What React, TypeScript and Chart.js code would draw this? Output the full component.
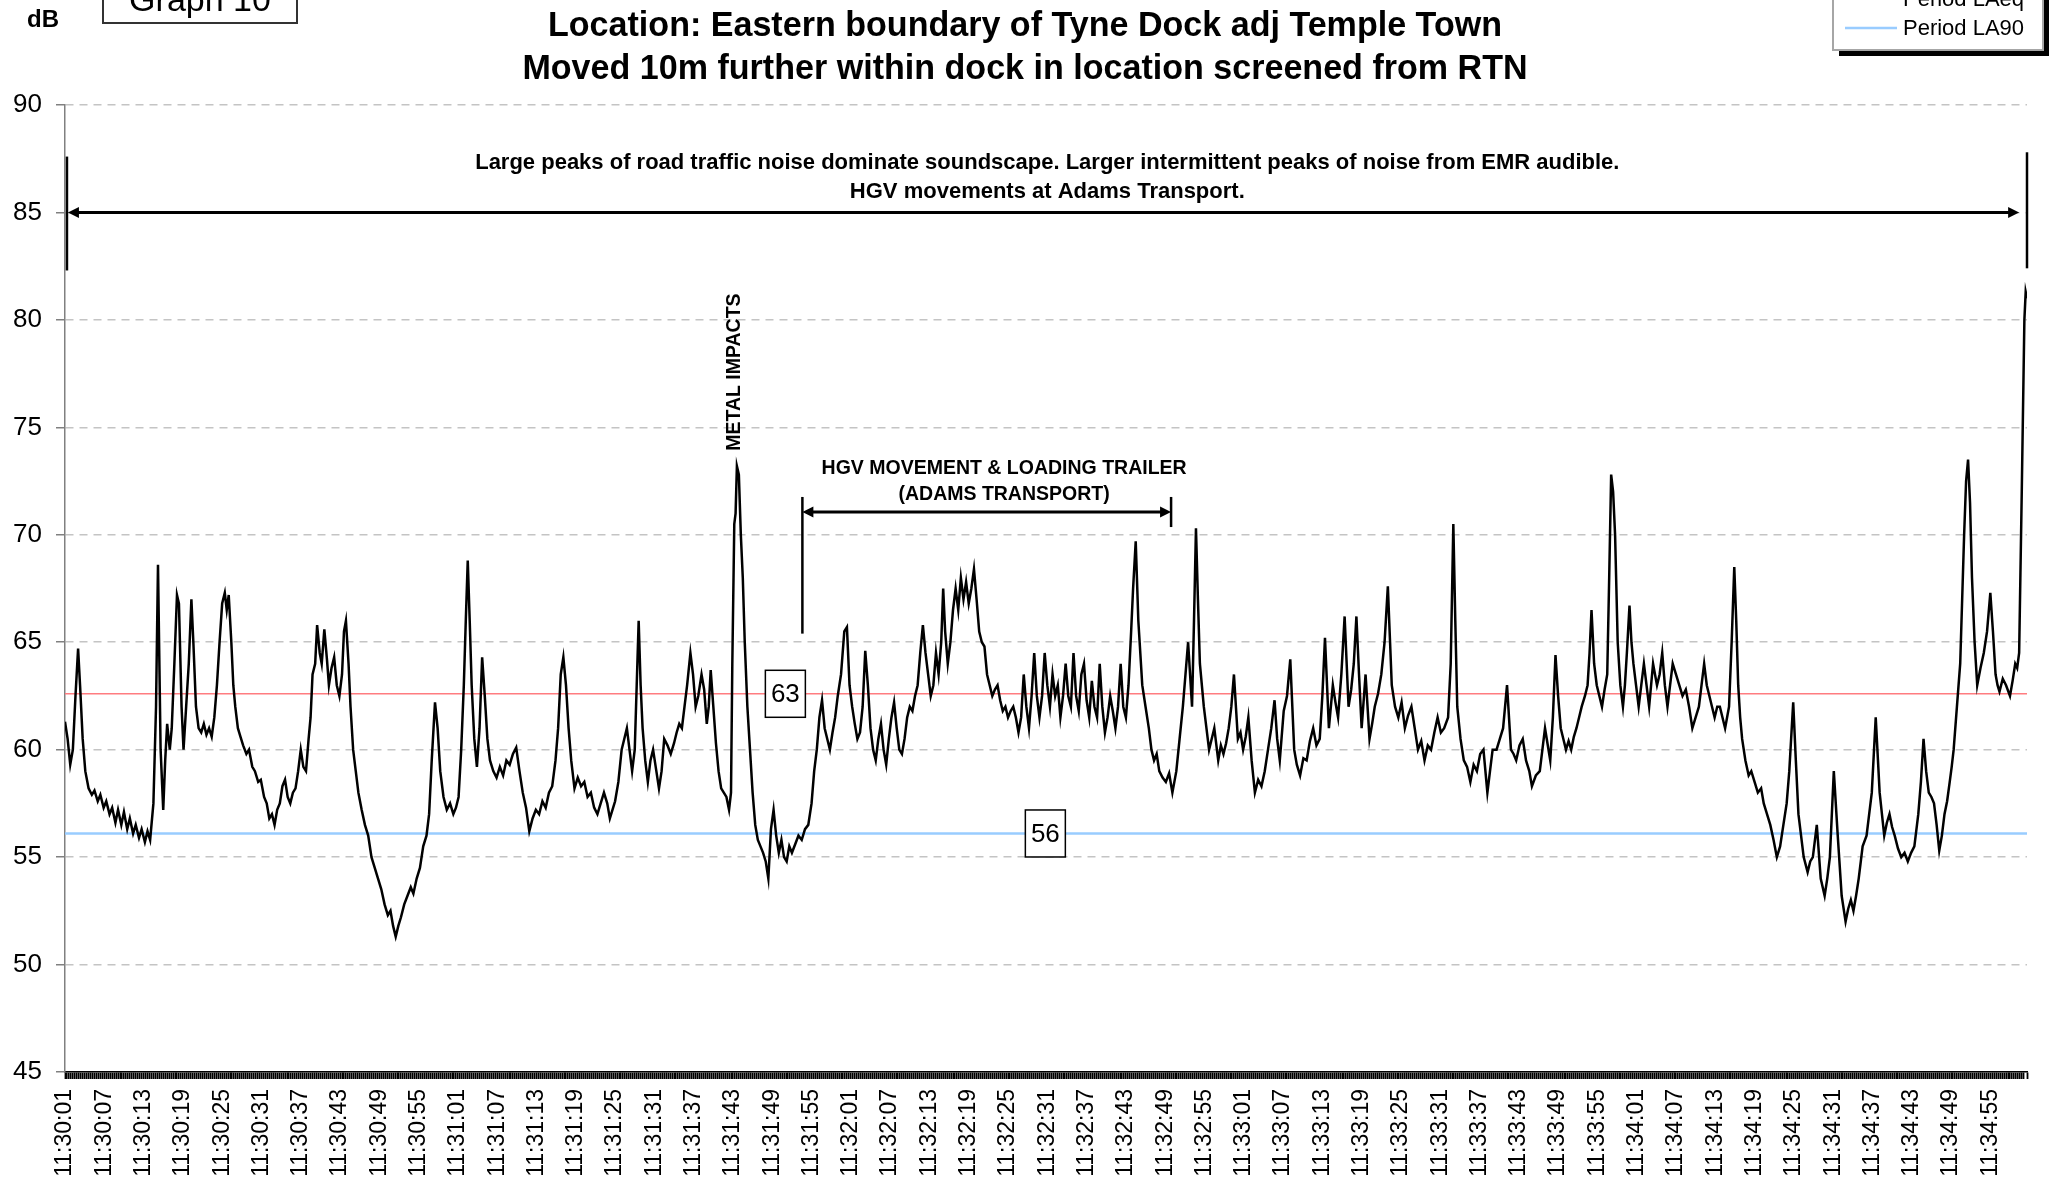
import { useEffect, useRef } from "react";
import { Chart, registerables } from "chart.js";

Chart.register(...registerables);

const FONT = "'Liberation Sans', Arial, Helvetica, sans-serif";
const PAGE_W = 2049;
const PAGE_H = 1179;
const HIDDEN_TOP = 60; // canvas rows that sit above the visible page
const CANVAS_H = 1300;

const titleLines = [
  "Measured Noise Sample at Position 10",
  "Location: Eastern boundary of Tyne Dock adj Temple Town",
  "Moved 10m further within dock in location screened from RTN",
];

const timeLabels = [
  "11:30:01", "11:30:07", "11:30:13", "11:30:19", "11:30:25", "11:30:31", "11:30:37", "11:30:43", "11:30:49", "11:30:55",
  "11:31:01", "11:31:07", "11:31:13", "11:31:19", "11:31:25", "11:31:31", "11:31:37", "11:31:43", "11:31:49", "11:31:55",
  "11:32:01", "11:32:07", "11:32:13", "11:32:19", "11:32:25", "11:32:31", "11:32:37", "11:32:43", "11:32:49", "11:32:55",
  "11:33:01", "11:33:07", "11:33:13", "11:33:19", "11:33:25", "11:33:31", "11:33:37", "11:33:43", "11:33:49", "11:33:55",
  "11:34:01", "11:34:07", "11:34:13", "11:34:19", "11:34:25", "11:34:31", "11:34:37", "11:34:43", "11:34:49", "11:34:55",
];
const labelStepSeconds = 6;
const sampleEnd = 299.6;

// [seconds after 11:30:01, LAeq dB] — first half of the sample
const laeqTraceA: [number, number][] = [
  [0, 61.3], [0.4, 60.5], [0.8, 59.3], [1.2, 60], [1.6, 62.5], [2.0, 64.7], [2.3, 63], [2.7, 60.5], [3.1, 59], [3.6, 58.2],
  [4.1, 57.9], [4.5, 58.1], [5.0, 57.6], [5.4, 57.9], [5.9, 57.3], [6.3, 57.6], [6.8, 57], [7.2, 57.3], [7.7, 56.6], [8.1, 57.2],
  [8.6, 56.5], [9.0, 57.1], [9.5, 56.3], [9.9, 56.8], [10.4, 56.1], [10.8, 56.5], [11.3, 55.9], [11.7, 56.3], [12.2, 55.7], [12.6, 56.2],
  [13.0, 55.8], [13.5, 57.5], [13.9, 62], [14.2, 68.6], [14.6, 60], [15.0, 57.2], [15.3, 59.5], [15.6, 61.2], [16.0, 60], [16.3, 61],
  [16.7, 64], [17.1, 67.2], [17.4, 66.8], [17.8, 62], [18.1, 60], [18.5, 62], [18.9, 64], [19.3, 67], [19.6, 65], [20.0, 62],
  [20.4, 61], [20.8, 60.8], [21.2, 61.2], [21.6, 60.7], [22.0, 61], [22.4, 60.6], [22.8, 61.5], [23.2, 63], [23.6, 65], [24.0, 66.8],
  [24.4, 67.3], [24.7, 66.5], [25.0, 67.2], [25.4, 65], [25.7, 63], [26.0, 62], [26.4, 61], [26.8, 60.6], [27.2, 60.2], [27.7, 59.8],
  [28.1, 60], [28.6, 59.2], [29.0, 59], [29.5, 58.5], [29.9, 58.6], [30.4, 57.8], [30.8, 57.5], [31.2, 56.8], [31.6, 57], [32.0, 56.5],
  [32.4, 57.2], [32.8, 57.5], [33.2, 58.3], [33.6, 58.6], [34.0, 57.8], [34.4, 57.5], [34.8, 58], [35.2, 58.2], [35.6, 59], [36.0, 60],
  [36.4, 59.2], [36.8, 59], [37.2, 60.5], [37.5, 61.5], [37.8, 63.5], [38.2, 64], [38.5, 65.8], [38.9, 64.5], [39.2, 64], [39.6, 65.6],
  [40.0, 64.2], [40.3, 63], [40.7, 63.8], [41.1, 64.3], [41.5, 63], [41.9, 62.5], [42.3, 63.5], [42.6, 65.5], [42.9, 66], [43.3, 64],
  [43.6, 62], [44.0, 60], [44.4, 59], [44.8, 58], [45.3, 57.2], [45.8, 56.5], [46.3, 56], [46.8, 55], [47.3, 54.5], [47.8, 54],
  [48.3, 53.5], [48.8, 52.8], [49.3, 52.3], [49.7, 52.5], [50.1, 51.8], [50.5, 51.3], [50.9, 51.8], [51.3, 52.2], [51.8, 52.8], [52.3, 53.2],
  [52.8, 53.6], [53.2, 53.3], [53.7, 54], [54.2, 54.5], [54.7, 55.5], [55.2, 56], [55.6, 57], [56.0, 59.5], [56.5, 62.2], [56.9, 61],
  [57.3, 59], [57.8, 57.8], [58.3, 57.2], [58.8, 57.5], [59.3, 57], [59.7, 57.3], [60.1, 57.8], [60.5, 60], [60.9, 63], [61.2, 66],
  [61.5, 68.8], [61.8, 66], [62.1, 63], [62.5, 60.5], [62.9, 59.2], [63.3, 61], [63.7, 64.3], [64.1, 62.5], [64.5, 60.5], [64.9, 59.5],
  [65.4, 59], [65.9, 58.7], [66.4, 59.2], [66.9, 58.8], [67.4, 59.5], [67.9, 59.3], [68.4, 59.8], [68.9, 60.1], [69.4, 59], [69.9, 58],
  [70.4, 57.3], [70.9, 56.2], [71.4, 56.8], [71.9, 57.2], [72.4, 57], [72.9, 57.6], [73.4, 57.3], [73.9, 58], [74.4, 58.3], [74.9, 59.5],
  [75.3, 61], [75.7, 63.5], [76.1, 64.3], [76.5, 63], [76.9, 61], [77.3, 59.5], [77.8, 58.2], [78.3, 58.7], [78.8, 58.3], [79.3, 58.5],
  [79.8, 57.8], [80.3, 58], [80.8, 57.3], [81.3, 57], [81.8, 57.5], [82.3, 58], [82.8, 57.5], [83.2, 56.8], [83.6, 57.2], [84.0, 57.6],
  [84.5, 58.5], [85.0, 60], [85.4, 60.5], [85.8, 61], [86.2, 60], [86.6, 59], [87.0, 60], [87.3, 63], [87.6, 66], [87.9, 63],
  [88.2, 61], [88.6, 59.5], [89.0, 58.5], [89.4, 59.5], [89.8, 60], [90.3, 59], [90.7, 58.2], [91.1, 59], [91.5, 60.5], [92.0, 60.2],
  [92.5, 59.8], [93.0, 60.3], [93.4, 60.8], [93.8, 61.2], [94.2, 61], [94.6, 62], [95.0, 63], [95.5, 64.5], [95.9, 63.5], [96.3, 62],
  [96.7, 62.5], [97.2, 63.5], [97.6, 62.8], [98.0, 61.2], [98.3, 62], [98.6, 63.7], [99.0, 62], [99.4, 60.3], [99.8, 59], [100.2, 58.2],
  [100.6, 58], [101.0, 57.8], [101.4, 57.2], [101.7, 58], [101.9, 64], [102.2, 70.5], [102.4, 71], [102.6, 73.2], [102.9, 72.8], [103.2, 70],
  [103.5, 68], [103.8, 65], [104.2, 62], [104.6, 60], [105.0, 58], [105.4, 56.5], [105.8, 55.8], [106.2, 55.5], [106.6, 55.2], [107.0, 54.8],
  [107.4, 54], [107.8, 56.3], [108.2, 57.2], [108.6, 56], [109.0, 55.2], [109.4, 55.8], [109.8, 55], [110.2, 54.8], [110.6, 55.5], [111.0, 55.2],
  [111.5, 55.6], [112.0, 56], [112.5, 55.8], [113.0, 56.3], [113.5, 56.5], [114.0, 57.5], [114.4, 59], [114.8, 60], [115.2, 61.5], [115.6, 62.3],
  [116.0, 61], [116.4, 60.5], [116.8, 60], [117.2, 60.8], [117.6, 61.5], [118.0, 62.5], [118.5, 63.5], [119.0, 65.5], [119.4, 65.7], [119.8, 63],
  [120.2, 62], [120.6, 61.2], [121.0, 60.5], [121.4, 60.8], [121.8, 62], [122.2, 64.6], [122.6, 63], [123.0, 61], [123.4, 60], [123.8, 59.5],
  [124.2, 60.5], [124.6, 61.2], [125.0, 60], [125.4, 59.3], [125.8, 60.5], [126.2, 61.5], [126.6, 62.2], [127.0, 61], [127.4, 60], [127.8, 59.8],
  [128.2, 60.5], [128.6, 61.5], [129.0, 62], [129.4, 61.8], [129.8, 62.5], [130.2, 63], [130.6, 64.5], [131.0, 65.8], [131.4, 64.5], [131.8, 63.5],
  [132.2, 62.5], [132.6, 63], [133.0, 64.5], [133.4, 63.5], [133.8, 65], [134.1, 67.5], [134.4, 65.5], [134.8, 64], [135.2, 65], [135.6, 66.5],
  [136.0, 67.5], [136.4, 66.5], [136.8, 68], [137.2, 67], [137.6, 67.8], [138.0, 66.8], [138.4, 67.5], [138.8, 68.4], [139.2, 67], [139.6, 65.5],
  [140.0, 65], [140.4, 64.8], [140.8, 63.5], [141.2, 63], [141.6, 62.5], [142.0, 62.8], [142.4, 63], [142.8, 62.3], [143.2, 61.8], [143.6, 62],
  [144.0, 61.5], [144.4, 61.8], [144.8, 62], [145.2, 61.5], [145.6, 60.8], [146.0, 61.5], [146.4, 63.5], [146.8, 62], [147.2, 61], [147.6, 62.5],
  [148.0, 64.5], [148.4, 62.5], [148.8, 61.5], [149.2, 62.5], [149.6, 64.5], [150.0, 63], [150.4, 62], [150.8, 63.5], [151.2, 62.5], [151.6, 63],
  [152.0, 61.5], [152.4, 62.5], [152.8, 64], [153.2, 62.5], [153.6, 62], [154.0, 64.5], [154.4, 62.5], [154.8, 61.8], [155.2, 63.5], [155.6, 64],
  [156.0, 62.3], [156.4, 61.5], [156.8, 63.2], [157.2, 62], [157.6, 61.5], [158.0, 64], [158.4, 62], [158.8, 60.8], [159.2, 61.5], [159.6, 62.5],
  [160.0, 61.8], [160.4, 61], [160.8, 62], [161.2, 64], [161.6, 62], [162.0, 61.5], [162.4, 63], [162.8, 65.5], [163.1, 67.5], [163.5, 69.7],
  [163.9, 66], [164.5, 63],
];

// second half of the sample
const laeqTraceB: [number, number][] = [
  [165.0, 62], [165.5, 61], [165.9, 60], [166.3, 59.5], [166.7, 59.8], [167.1, 59], [167.6, 58.7], [168.1, 58.5], [168.6, 58.9], [169.1, 58],
  [169.7, 59], [170.2, 60.5], [170.7, 62], [171.1, 63.5], [171.5, 65], [172.1, 62], [172.4, 66], [172.7, 70.3], [173.0, 67], [173.3, 64],
  [173.9, 62], [174.3, 61], [174.7, 60], [175.1, 60.5], [175.5, 61], [176.1, 59.5], [176.5, 60.2], [176.9, 59.8], [177.3, 60.3], [177.7, 61],
  [178.1, 62], [178.5, 63.5], [179.1, 60.5], [179.5, 60.8], [179.9, 60], [180.3, 60.6], [180.7, 61.5], [181.2, 59.5], [181.7, 58], [182.2, 58.6],
  [182.7, 58.3], [183.2, 59], [183.7, 60], [184.2, 61], [184.7, 62.3], [185.1, 60.5], [185.5, 59.5], [186.1, 61.8], [186.6, 62.5], [187.1, 64.2],
  [187.7, 60], [188.1, 59.3], [188.6, 58.8], [189.1, 59.6], [189.6, 59.5], [190.1, 60.4], [190.6, 61], [191.1, 60.2], [191.6, 60.5], [192.0, 62.5],
  [192.4, 65.2], [193.0, 61], [193.6, 63], [194.0, 62.2], [194.4, 61.5], [194.9, 63.5], [195.4, 66.2], [196.0, 62], [196.4, 62.8], [196.8, 64],
  [197.2, 66.2], [197.6, 63.5], [198.0, 61], [198.6, 63.5], [199.2, 60.5], [199.6, 61.2], [200.0, 62], [200.5, 62.6], [201.0, 63.5], [201.5, 65],
  [202.0, 67.6], [202.6, 63], [203.1, 62], [203.6, 61.5], [204.1, 62.2], [204.6, 61], [205.1, 61.6], [205.6, 62], [206.1, 61], [206.6, 60],
  [207.1, 60.4], [207.6, 59.5], [208.1, 60.2], [208.6, 60], [209.1, 60.8], [209.6, 61.5], [210.1, 60.8], [210.6, 61], [211.2, 61.5], [211.6, 64],
  [212.0, 70.5], [212.3, 66], [212.6, 62], [213.1, 60.5], [213.6, 59.5], [214.1, 59.2], [214.6, 58.5], [215.1, 59.3], [215.6, 59], [216.1, 59.8],
  [216.6, 60], [217.2, 58], [217.6, 59], [218.0, 60], [218.6, 60], [219.1, 60.5], [219.6, 61], [220.2, 63], [220.8, 60], [221.2, 59.8],
  [221.6, 59.5], [222.1, 60.2], [222.6, 60.5], [223.1, 59.5], [223.6, 59], [224.0, 58.3], [224.6, 58.8], [225.2, 59], [225.6, 60], [226.0, 61],
  [226.8, 59.5], [227.2, 61.5], [227.6, 64.4], [228.0, 62.5], [228.4, 61], [228.8, 60.5], [229.2, 60], [229.6, 60.4], [230.0, 60], [230.4, 60.6],
  [230.8, 61], [231.2, 61.5], [231.6, 62], [232.1, 62.5], [232.5, 63], [232.8, 64.5], [233.1, 66.5], [233.5, 64], [233.9, 63], [234.3, 62.5],
  [234.7, 62], [235.1, 62.8], [235.5, 63.5], [235.8, 68], [236.1, 72.8], [236.4, 72], [236.7, 70], [237.1, 65], [237.5, 63], [237.9, 62],
  [238.2, 63], [238.5, 64.5], [238.9, 66.7], [239.2, 65], [239.5, 64], [239.9, 63], [240.3, 62], [240.7, 63], [241.1, 64], [241.5, 63],
  [241.9, 62], [242.2, 63], [242.5, 64], [242.8, 63.5], [243.1, 63], [243.5, 63.5], [243.9, 64.5], [244.3, 63], [244.7, 62], [245.1, 63],
  [245.5, 64], [246.0, 63.5], [246.5, 63], [247.0, 62.5], [247.5, 62.8], [248.0, 62], [248.5, 61], [249.0, 61.5], [249.5, 62], [249.9, 63],
  [250.3, 64], [250.7, 63], [251.1, 62.5], [251.5, 62], [251.9, 61.5], [252.3, 62], [252.7, 62], [253.1, 61.5], [253.5, 61], [253.8, 61.5],
  [254.1, 62], [254.5, 65], [254.9, 68.5], [255.2, 66], [255.5, 63], [255.8, 61.5], [256.1, 60.5], [256.6, 59.5], [257.1, 58.8], [257.5, 59],
  [258.0, 58.5], [258.5, 58], [259.0, 58.2], [259.4, 57.5], [259.9, 57], [260.4, 56.5], [260.9, 55.8], [261.4, 55], [261.9, 55.5], [262.4, 56.5],
  [262.9, 57.5], [263.3, 59], [263.9, 62.2], [264.3, 59.5], [264.7, 57], [265.1, 56], [265.5, 55], [266.1, 54.3], [266.5, 54.8], [266.9, 55],
  [267.5, 56.5], [268.1, 54], [268.7, 53.2], [269.1, 54], [269.5, 55], [270.1, 59], [270.7, 56], [271.3, 53.2], [271.9, 52], [272.3, 52.6],
  [272.7, 53], [273.1, 52.5], [273.5, 53.2], [273.9, 54], [274.5, 55.5], [275.1, 56], [275.5, 57], [275.9, 58], [276.5, 61.5], [277.1, 58],
  [277.8, 56], [278.2, 56.6], [278.6, 57], [279.0, 56.4], [279.4, 56], [279.9, 55.4], [280.4, 55], [280.9, 55.2], [281.4, 54.8], [281.9, 55.2],
  [282.4, 55.5], [283.0, 57], [283.4, 58.5], [283.8, 60.5], [284.2, 59], [284.6, 58], [285.0, 57.8], [285.4, 57.5], [285.8, 56.5], [286.2, 55.3],
  [286.6, 56], [287.0, 57], [287.4, 57.6], [287.8, 58.5], [288.1, 59.2], [288.4, 60], [288.9, 62], [289.4, 64], [289.7, 67], [290.0, 70],
  [290.3, 72.5], [290.6, 73.5], [290.9, 71.5], [291.2, 68], [291.6, 65], [292.0, 63], [292.5, 63.8], [293.0, 64.5], [293.5, 65.5], [294.0, 67.3],
  [294.4, 65.5], [294.8, 63.5], [295.1, 63], [295.4, 62.7], [295.9, 63.3], [296.4, 63], [297.0, 62.5], [297.4, 63.2], [297.8, 64], [298.1, 63.8],
  [298.4, 64.5], [298.8, 72], [299.2, 80], [299.4, 81.3], [299.6, 81],
];

const periodLAeq = 62.6;
const periodLA90 = 56.1;

const traceLabel = "LAeq";
const laeqLabel = "Period LAeq";
const la90Label = "Period LA90";
const traceColor = "#000000";
const laeqColor = "#ff7c80";
const la90Color = "#99ccff";

const spanNote = [
  "Large peaks of road traffic noise dominate soundscape. Larger intermittent peaks of noise from EMR audible.",
  "HGV movements at Adams Transport.",
];
const metalNote = "METAL IMPACTS";
const hgvNote = ["HGV MOVEMENT & LOADING TRAILER", "(ADAMS TRANSPORT)"];

// where the notes sit, in axis units (seconds, dB)
const spanNoteAt = { t: 150, lines: [87.3, 85.95], arrow: 85, from: 0.45, to: 298.4, barL: 0.3, barR: 299.6, barTop: 87.6, barBottom: 82.3 };
const metalNoteAt = { t: 102.3, level: 77.57 };
const hgvNoteAt = { t: 143.4, lines: [73.1, 71.85], arrow: 71.06, from: 112.6, to: 168.9, top: 71.76, leftBottom: 65.4, rightBottom: 70.36 };
const laeqBoxAt = 110;
const la90BoxAt = 149.7;

type Ctx = CanvasRenderingContext2D;

function drawText(ctx: Ctx, text: string, x: number, y: number, font: string, width?: number, rotate = 0) {
  ctx.save();
  ctx.font = font;
  ctx.fillStyle = "#000";
  ctx.textAlign = "center";
  ctx.textBaseline = "middle";
  ctx.translate(x, y);
  if (rotate) ctx.rotate(rotate);
  if (width) {
    const w = ctx.measureText(text).width;
    ctx.scale(width / w, 1);
  }
  ctx.fillText(text, 0, 0);
  ctx.restore();
}

function drawHead(ctx: Ctx, tipX: number, y: number, dir: number, len: number, half: number) {
  ctx.beginPath();
  ctx.moveTo(tipX, y);
  ctx.lineTo(tipX + dir * len, y - half);
  ctx.lineTo(tipX + dir * len, y + half);
  ctx.closePath();
  ctx.fill();
}

function drawDoubleArrow(ctx: Ctx, x1: number, x2: number, y: number) {
  ctx.save();
  ctx.strokeStyle = "#000";
  ctx.fillStyle = "#000";
  ctx.lineWidth = 3;
  ctx.beginPath();
  ctx.moveTo(x1 + 6, y);
  ctx.lineTo(x2 - 6, y);
  ctx.stroke();
  drawHead(ctx, x1, y, 1, 11, 5.5);
  drawHead(ctx, x2, y, -1, 11, 5.5);
  ctx.restore();
}

function drawBar(ctx: Ctx, x: number, y1: number, y2: number) {
  ctx.save();
  ctx.strokeStyle = "#000";
  ctx.lineWidth = 2.5;
  ctx.beginPath();
  ctx.moveTo(x, y1);
  ctx.lineTo(x, y2);
  ctx.stroke();
  ctx.restore();
}

function drawValueBox(ctx: Ctx, cx: number, cy: number, value: number) {
  const w = 40, h = 47;
  ctx.save();
  ctx.fillStyle = "#fff";
  ctx.fillRect(cx - w / 2, cy - h / 2, w, h);
  ctx.strokeStyle = "#000";
  ctx.lineWidth = 1.5;
  ctx.strokeRect(cx - w / 2, cy - h / 2, w, h);
  ctx.restore();
  drawText(ctx, String(Math.round(value)), cx, cy + 1, `26px ${FONT}`);
}

const notesPlugin = {
  id: "notes",
  afterDatasetsDraw(chart: Chart) {
    const ctx = chart.ctx;
    const xs = chart.scales.x;
    const ys = chart.scales.y;
    const X = (t: number) => xs.getPixelForValue(t);
    const Y = (v: number) => ys.getPixelForValue(v);

    // span of the whole sample
    drawBar(ctx, X(spanNoteAt.barL), Y(spanNoteAt.barTop), Y(spanNoteAt.barBottom));
    drawBar(ctx, X(spanNoteAt.barR), Y(spanNoteAt.barTop + 0.2), Y(spanNoteAt.barBottom + 0.1));
    drawDoubleArrow(ctx, X(spanNoteAt.from), X(spanNoteAt.to), Y(spanNoteAt.arrow));
    spanNote.forEach((line, i) => drawText(ctx, line, X(spanNoteAt.t), Y(spanNoteAt.lines[i]), `bold 22px ${FONT}`));

    drawText(ctx, metalNote, X(metalNoteAt.t), Y(metalNoteAt.level), `bold 19.5px ${FONT}`, undefined, -Math.PI / 2);

    drawBar(ctx, X(hgvNoteAt.from), Y(hgvNoteAt.top), Y(hgvNoteAt.leftBottom));
    drawBar(ctx, X(hgvNoteAt.to), Y(hgvNoteAt.top), Y(hgvNoteAt.rightBottom));
    drawDoubleArrow(ctx, X(hgvNoteAt.from), X(hgvNoteAt.to), Y(hgvNoteAt.arrow));
    hgvNote.forEach((line, i) => drawText(ctx, line, X(hgvNoteAt.t), Y(hgvNoteAt.lines[i]), `bold 19.5px ${FONT}`));

    drawValueBox(ctx, X(laeqBoxAt), Y(periodLAeq), periodLAeq);
    drawValueBox(ctx, X(la90BoxAt), Y(periodLA90), periodLA90);
  },
  afterDraw(chart: Chart) {
    const ctx = chart.ctx;
    const top = HIDDEN_TOP;

    // title, squeezed to the narrow bold face of the sheet
    ctx.save();
    ctx.font = `bold 35px ${FONT}`;
    const squeeze = 954 / ctx.measureText(titleLines[1]).width;
    ctx.restore();
    const titleY = [-17, 26, 69];
    titleLines.forEach((line, i) => {
      ctx.save();
      ctx.font = `bold 35px ${FONT}`;
      const w = ctx.measureText(line).width * squeeze;
      ctx.restore();
      drawText(ctx, line, 1025, top + titleY[i], `bold 35px ${FONT}`, w);
    });

    drawText(ctx, "dB", 43, top + 20, `bold 24px ${FONT}`);

    // "Graph 10" frame
    ctx.save();
    ctx.strokeStyle = "#333";
    ctx.lineWidth = 2;
    ctx.strokeRect(103, top - 40, 194, 63);
    ctx.font = `34px ${FONT}`;
    ctx.fillStyle = "#000";
    ctx.textAlign = "center";
    ctx.textBaseline = "alphabetic";
    ctx.fillText("Graph 10", 200, top + 11);
    ctx.restore();

    // legend with drop shadow
    const lx = 1833, lw = 210, lb = top + 50, lt = top - 62;
    ctx.save();
    ctx.fillStyle = "#000";
    ctx.fillRect(lx + 6, lt + 6, lw, lb - lt);
    ctx.fillStyle = "#fff";
    ctx.fillRect(lx, lt, lw, lb - lt);
    ctx.strokeStyle = "#a6a6a6";
    ctx.lineWidth = 2;
    ctx.strokeRect(lx, lt, lw, lb - lt);
    const rows = [top - 30, top - 1, top + 28];
    chart.data.datasets.forEach((ds: any, i: number) => {
      ctx.strokeStyle = ds.borderColor;
      ctx.lineWidth = ds.borderWidth;
      ctx.beginPath();
      ctx.moveTo(1845, rows[i]);
      ctx.lineTo(1897, rows[i]);
      ctx.stroke();
      ctx.font = `22px ${FONT}`;
      ctx.fillStyle = "#000";
      ctx.textAlign = "left";
      ctx.textBaseline = "middle";
      ctx.fillText(ds.label, 1903, rows[i] + 1);
    });
    ctx.restore();
  },
};

export default function App() {
  const ref = useRef<HTMLCanvasElement>(null);

  useEffect(() => {
    const canvas = ref.current;
    if (!canvas) return;
    Chart.defaults.font.family = FONT;
    const trace = [...laeqTraceA, ...laeqTraceB].map(([t, v]) => ({ x: t, y: v }));
    const chart = new Chart(canvas, {
      type: "line",
      data: {
        datasets: [
          {
            label: traceLabel,
            data: trace,
            borderColor: traceColor,
            borderWidth: 2.5,
            pointRadius: 0,
            tension: 0,
          },
          {
            label: laeqLabel,
            data: [{ x: 0, y: periodLAeq }, { x: sampleEnd, y: periodLAeq }],
            borderColor: laeqColor,
            borderWidth: 1.5,
            pointRadius: 0,
          },
          {
            label: la90Label,
            data: [{ x: 0, y: periodLA90 }, { x: sampleEnd, y: periodLA90 }],
            borderColor: la90Color,
            borderWidth: 2.5,
            pointRadius: 0,
          },
        ],
      },
      options: {
        animation: false,
        responsive: false,
        devicePixelRatio: 1,
        layout: { padding: { top: 165, right: 22, bottom: 0, left: 0 } },
        plugins: { legend: { display: false }, title: { display: false }, tooltip: { enabled: false } },
        events: [],
        scales: {
          x: {
            type: "linear",
            min: 0,
            max: sampleEnd,
            ticks: {
              stepSize: 0.3,
              autoSkip: false,
              minRotation: 90,
              maxRotation: 90,
              padding: 10,
              color: "#000",
              font: { size: 23 },
              callback: (v: any) => {
                const k = Number(v) / labelStepSeconds;
                const idx = Math.round(k);
                return Math.abs(k - idx) < 1e-6 && timeLabels[idx] ? timeLabels[idx] : "";
              },
            },
            grid: { drawOnChartArea: false, drawTicks: true, tickLength: 7, tickColor: "#000", tickWidth: 1.8 },
            border: { color: "#000", width: 1.5 },
            afterFit: (s: any) => {
              s.height = CANVAS_H - (1072 + HIDDEN_TOP);
              s.paddingLeft = 0;
              s.paddingRight = 0;
            },
          },
          y: {
            min: 45,
            max: 90,
            ticks: { stepSize: 5, color: "#000", font: { size: 26 }, padding: 14 },
            grid: { color: "#c4c4c4", lineWidth: 1.5, tickColor: "#808080", tickLength: 9, tickWidth: 1.5 },
            border: { color: "#808080", width: 1.5, dash: [8, 6] },
            afterFit: (s: any) => {
              s.width = 65;
              s.paddingTop = 0;
              s.paddingBottom = 0;
            },
          },
        },
      },
      plugins: [notesPlugin],
    } as any);
    return () => chart.destroy();
  }, []);

  return (
    <div style={{ position: "absolute", left: 0, top: 0, width: PAGE_W, height: PAGE_H, overflow: "hidden", background: "#fff" }}>
      <canvas
        ref={ref}
        width={PAGE_W}
        height={CANVAS_H}
        style={{ position: "absolute", left: 0, top: -HIDDEN_TOP, width: PAGE_W, height: CANVAS_H }}
      />
    </div>
  );
}
